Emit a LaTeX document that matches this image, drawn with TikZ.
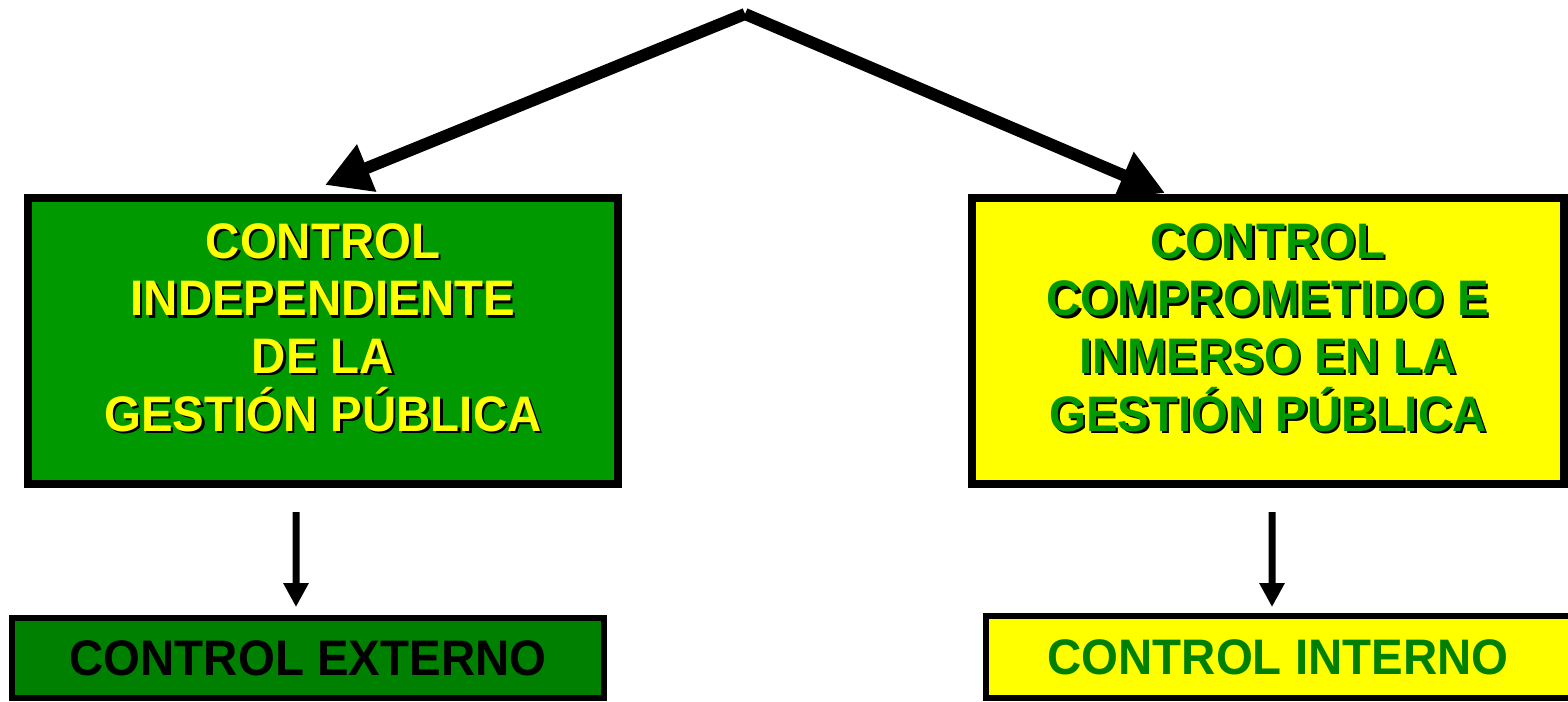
\documentclass[tikz,border=0pt]{standalone}
\usepackage{fontspec}
\setmainfont{Liberation Sans}[FakeStretch=0.95]
\usetikzlibrary{arrows.meta}
\definecolor{verde}{RGB}{0,153,0}
\definecolor{verdeosc}{RGB}{0,128,0}
\definecolor{amarillo}{RGB}{255,255,0}

\newcommand{\txtindep}{CONTROL\\INDEPENDIENTE\\DE LA\\GESTIÓN PÚBLICA}
\newcommand{\txtcomp}{CONTROL\\COMPROMETIDO E\\INMERSO EN LA\\GESTIÓN PÚBLICA}

\begin{document}
\begin{tikzpicture}[
  caja/.style={draw=black, line width=0.16cm, inner sep=0pt, minimum width=11.8cm, minimum height=5.72cm},
  cajita/.style={draw=black, line width=0.12cm, inner sep=0pt, minimum height=1.6cm,
    font=\fontsize{28.4}{32.8}\selectfont\bfseries},
  texto/.style={font=\fontsize{28.4}{32.8}\selectfont\bfseries, align=center, inner sep=0pt, anchor=north},
  flecha/.style={line width=0.24cm, -{Triangle[length=0.9cm,width=0.96cm]}},
  flechita/.style={line width=0.14cm, -{Triangle[length=0.48cm,width=0.48cm]}},
]
\useasboundingbox (0,0) rectangle (31.36,14.02);

% cajas de arriba
\node[caja, fill=verde] (indep) at (6.46,7.20) {};
\node[caja, fill=amarillo, minimum width=11.84cm] (comp) at (25.36,7.20) {};

\node[texto, text=black] at ([shift={(0.045,-0.625)}]indep.north) {\txtindep};
\node[texto, text=amarillo] (indeptxt) at ([yshift=-0.58cm]indep.north) {\txtindep};
\node[texto, text=black] at ([shift={(0.045,-0.625)}]comp.north) {\txtcomp};
\node[texto, text=verde] (comptxt) at ([yshift=-0.58cm]comp.north) {\txtcomp};

% cajas de abajo
\node[cajita, fill=verdeosc, minimum width=11.84cm, text=black] (externo) at (6.16,0.86) {CONTROL EXTERNO};
\node[cajita, fill=amarillo, minimum width=12.08cm, minimum height=1.64cm, text=verdeosc] (interno) at (25.76,0.88) {\hspace*{-0.4cm}CONTROL INTERNO};

% flechas
\coordinate (cima) at (14.90,13.74);
\draw[flecha] (cima) -- ([shift={(0.04,0.18)}]indep.north);
\draw[flecha] (cima) -- ([shift={(-2.06,0.02)}]comp.north);

\draw[flechita] ([shift={(-0.54,-0.48)}]indep.south) -- ([shift={(-0.24,0.16)}]externo.north);
\draw[flechita] ([shift={(0.08,-0.48)}]comp.south) -- ([shift={(-0.32,0.12)}]interno.north);

\end{tikzpicture}
\end{document}
